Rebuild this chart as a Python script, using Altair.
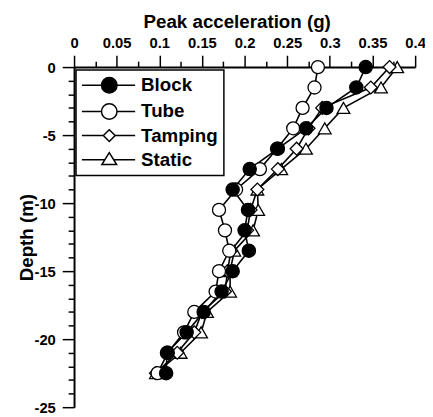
import altair as alt
import pandas as pd

# ---- data ----
depth = [0, -1.5, -3, -4.5, -6, -7.5, -9, -10.5, -12, -13.5, -15, -16.5, -18, -19.5, -21, -22.5]
block = [0.342, 0.331, 0.296, 0.272, 0.239, 0.206, 0.186, 0.204, 0.200, 0.205, 0.186, 0.173, 0.152, 0.132, 0.109, 0.108]
tube = [0.286, 0.282, 0.268, 0.257, 0.238, 0.218, 0.190, 0.170, 0.177, 0.182, 0.170, 0.166, 0.141, 0.129, 0.110, 0.098]
tamping = [0.370, 0.348, 0.291, 0.275, 0.261, 0.239, 0.215, 0.207, 0.203, 0.184, 0.180, 0.177, 0.150, 0.141, 0.121, 0.096]
static = [0.379, 0.360, 0.316, 0.294, 0.272, 0.243, 0.215, 0.216, 0.210, 0.188, 0.183, 0.183, 0.156, 0.149, 0.125, 0.096]

series_names = ["Block", "Tube", "Tamping", "Static"]
draw_order = ["Static", "Tamping", "Tube", "Block"]

x_major = [0, 0.05, 0.1, 0.15, 0.2, 0.25, 0.3, 0.35, 0.4]
x_minor = [0.025, 0.075, 0.125, 0.175, 0.225, 0.275, 0.325, 0.375]
y_major = [-25, -20, -15, -10, -5, 0]
y_minor = [v for v in range(-24, 0) if v % 5 != 0]

values_by_series = {"Block": block, "Tube": tube, "Tamping": tamping, "Static": static}
rows = []
for name in draw_order:
    for i, (d, v) in enumerate(zip(depth, values_by_series[name])):
        rows.append({"series": name, "depth": d, "accel": v, "idx": i})
df = pd.DataFrame(rows)

FONT = "Liberation Sans"
W, H = 346, 345
x_scale = alt.Scale(domain=[0, 0.4], nice=False, zero=False)
y_scale = alt.Scale(domain=[-25, 0], nice=False, zero=False)

base = alt.Chart(df)

lines = base.mark_line(color="black", strokeWidth=1.6).encode(
    x=alt.X("accel:Q", scale=x_scale,
            axis=alt.Axis(orient="top", values=x_major, tickSize=12, labelPadding=5,
                          labelExpr="toString(datum.value)", labelFlush=False,
                          labelOverlap=False, grid=False,
                          title="Peak acceleration (g)", titleX=165, titleY=-46,
                          titleBaseline="middle")),
    y=alt.Y("depth:Q", scale=y_scale,
            axis=alt.Axis(orient="left", values=y_major, tickSize=12, labelPadding=7,
                          labelExpr="toString(datum.value)", labelFlush=False,
                          labelOverlap=False, grid=False,
                          title="Depth (m)", titleX=-48, titleY=H / 2,
                          titleBaseline="middle")),
    detail="series:N",
    order="idx:Q",
)

minor = base.transform_filter("false").mark_point(opacity=0).encode(
    x=alt.X("accel:Q", scale=x_scale,
            axis=alt.Axis(orient="top", values=x_minor, tickSize=6, labels=False,
                          domain=False, grid=False, title=None)),
    y=alt.Y("depth:Q", scale=y_scale,
            axis=alt.Axis(orient="left", values=y_minor, tickSize=6, labels=False,
                          domain=False, grid=False, title=None)),
)

points = base.mark_point(filled=True, stroke="black", strokeWidth=1.3, opacity=1).encode(
    x=alt.X("accel:Q", scale=x_scale, axis=None),
    y=alt.Y("depth:Q", scale=y_scale, axis=None),
    shape=alt.Shape("series:N", scale=alt.Scale(domain=series_names,
                    range=["circle", "circle", "diamond", "triangle-up"]), legend=None),
    fill=alt.Fill("series:N", scale=alt.Scale(domain=series_names,
                  range=["black", "white", "white", "white"]), legend=None),
    size=alt.Size("series:N", scale=alt.Scale(domain=series_names,
                  range=[180, 165, 120, 145]), legend=None),
)

legend_paths = [
    "M-1.27,0L1.38,0M3.48,0L5.93,0M3.48,0A1.05,1.05,0,1,1,1.38,0A1.05,1.05,0,1,1,3.48,0Z",
    "M-1.27,0L1.38,0M3.48,0L5.93,0M3.48,0A1.05,1.05,0,1,1,1.38,0A1.05,1.05,0,1,1,3.48,0Z",
    "M-1.27,0L1.63,0M3.23,0L5.93,0M1.63,0L2.43,-0.8L3.23,0L2.43,0.8Z",
    "M-1.27,0L1.84,0M3.02,0L5.93,0M2.43,-0.95L3.43,0.65L1.43,0.65Z",
]

leg = alt.Legend(title=None, orient="none", legendX=2, legendY=3,
                 symbolStrokeColor="black", symbolStrokeWidth=1.5)

legend_layer = base.transform_filter("false").mark_point(
    filled=True, strokeWidth=1.5, size=225, opacity=1
).encode(
    x=alt.X("accel:Q", scale=x_scale, axis=None),
    y=alt.Y("depth:Q", scale=y_scale, axis=None),
    shape=alt.Shape("series:N", scale=alt.Scale(domain=series_names, range=legend_paths),
                    legend=leg),
    fill=alt.Fill("series:N", scale=alt.Scale(domain=series_names,
                  range=["black", "white", "white", "white"]), legend=leg),
    stroke=alt.Stroke("series:N", scale=alt.Scale(domain=series_names,
                      range=["black", "black", "black", "black"]), legend=leg),
)

chart = alt.layer(lines, minor, points, legend_layer).resolve_axis(
    x="independent", y="independent"
).resolve_scale(
    shape="independent", fill="independent", size="independent", stroke="independent"
).properties(
    width=W, height=H,
    padding={"left": 67, "top": 57, "right": 10, "bottom": 5},
    autosize=alt.AutoSizeParams(type="none"),
).configure_view(stroke=None).configure_axis(
    domainColor="black", domainWidth=2, tickColor="black", tickWidth=1.5,
    labelFont=FONT, labelFontSize=15, labelFontWeight="bold", labelColor="black",
    titleFont=FONT, titleFontSize=19, titleFontWeight="bold", titleColor="black",
).configure_legend(
    strokeColor="black", strokeWidth=1.5, fillColor="white", padding=6,
    cornerRadius=0, labelFont=FONT, labelFontSize=19, labelFontWeight="bold",
    labelColor="black", symbolSize=225, symbolStrokeWidth=1.5,
    symbolStrokeColor="black", labelOffset=41, rowPadding=3.5,
)

chart.save("out.html", embed_options={"renderer": "svg", "actions": False})
